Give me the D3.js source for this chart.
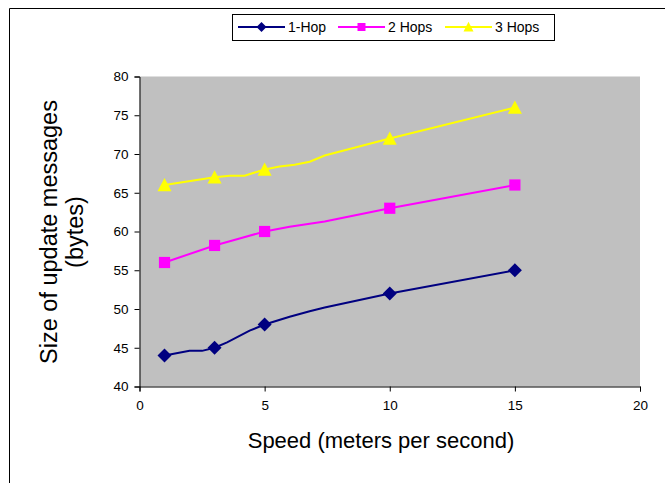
<!DOCTYPE html>
<html>
<head>
<meta charset="utf-8">
<script src="https://cdn.jsdelivr.net/npm/d3@7"></script>
<style>
  html, body { margin: 0; padding: 0; background: #fff; }
  svg { display: block; }
  text { font-family: "Liberation Sans", Arial, sans-serif; fill: #000; }
</style>
</head>
<body>
<svg id="chart" width="665" height="483"></svg>
<script>
// ---- data ----
const seriesNames = ["1-Hop", "2 Hops", "3 Hops"];
const markerSpeeds = [1, 3, 5, 10, 15];
const hop1Markers = [44, 45, 48, 52, 55];
const hop2Markers = [56, 58.2, 60, 63, 66];
const hop3Markers = [66, 67, 68, 72, 76];
// line traces (include the small intermediate bends seen in the picture)
const hop1LineX = [1, 2, 2.5, 3, 3.5, 4.4, 5, 6, 6.8, 7.4, 10, 15];
const hop1LineY = [44, 44.6, 44.6, 45, 45.7, 47.2, 48, 49.0, 49.7, 50.2, 52, 55];
const hop2LineX = [1, 3, 4, 5, 6, 6.8, 7.4, 10, 15];
const hop2LineY = [56, 58.2, 59.1, 60, 60.6, 61.0, 61.3, 63, 66];
const hop3LineX = [1, 3, 3.6, 4.2, 5, 5.6, 6.2, 6.8, 7.4, 10, 15];
const hop3LineY = [66, 67, 67.2, 67.2, 68, 68.4, 68.6, 69.0, 69.8, 72, 76];
const xTicks = [0, 5, 10, 15, 20];
const yTicks = [40, 45, 50, 55, 60, 65, 70, 75, 80];

const colors = ["#000080", "#FF00FF", "#FFFF00"];

// marker shapes (r = half size)
function markerPath(i, r) {
  if (i === 0) return `M0,${-r}L${r},0L0,${r}L${-r},0Z`;
  if (i === 1) { const s = r * 0.8; return `M${-s},${-s}H${s}V${s}H${-s}Z`; }
  const h = r * 1.75;
  return `M0,${-h / 2 - 1}L${r},${h / 2}L${-r},${h / 2}Z`;
}

const svg = d3.select("#chart");

// outer frame (extends beyond right and bottom edges)
svg.append("path")
  .attr("d", "M9.5,483 L9.5,8.5 L665,8.5")
  .attr("fill", "none").attr("stroke", "#000").attr("stroke-width", 1);

const x = d3.scaleLinear().domain([0, 20]).range([139.5, 640]);
const y = d3.scaleLinear().domain([40, 80]).range([386.5, 76.5]);

// plot area
svg.append("rect")
  .attr("x", x(0)).attr("y", y(80))
  .attr("width", x(20) - x(0)).attr("height", y(40) - y(80))
  .attr("fill", "#C0C0C0");

// axes
const xAxis = svg.append("g").attr("transform", `translate(0,${y(40)})`)
  .call(d3.axisBottom(x).tickValues(xTicks).tickSize(5).tickPadding(9).tickFormat(d3.format("d")));
const yAxis = svg.append("g").attr("transform", `translate(${x(0)},0)`)
  .call(d3.axisLeft(y).tickValues(yTicks).tickSize(5).tickPadding(6).tickFormat(d3.format("d")));
[xAxis, yAxis].forEach(g => {
  g.select(".domain").attr("stroke", "#000").attr("stroke-width", 1);
  g.selectAll(".tick line").attr("stroke", "#000");
  g.selectAll(".tick text").style("font-size", "13.5px")
    .style("font-family", "'Liberation Sans', Arial, sans-serif").attr("fill", "#000");
});

// series
const lines = [
  d3.zip(hop1LineX, hop1LineY),
  d3.zip(hop2LineX, hop2LineY),
  d3.zip(hop3LineX, hop3LineY)
];
const markers = [hop1Markers, hop2Markers, hop3Markers];
const line = d3.line().x(d => x(d[0])).y(d => y(d[1]));

lines.forEach((pts, i) => {
  svg.append("path").datum(pts).attr("d", line)
    .attr("fill", "none").attr("stroke", colors[i]).attr("stroke-width", 2);
});
markers.forEach((vals, i) => {
  svg.append("g").selectAll("path").data(d3.zip(markerSpeeds, vals)).join("path")
    .attr("transform", d => `translate(${x(d[0])},${y(d[1])})`)
    .attr("d", markerPath(i, 7))
    .attr("fill", colors[i]);
});

// axis titles
svg.append("text")
  .attr("x", 381).attr("y", 448).attr("text-anchor", "middle")
  .style("font-size", "22px").text("Speed (meters per second)");
const yt = svg.append("text")
  .attr("transform", "translate(57,232) rotate(-90)")
  .attr("text-anchor", "middle").style("font-size", "23.5px");
yt.append("tspan").attr("x", 0).attr("dy", 0).text("Size of update messages");
yt.append("tspan").attr("x", 0).attr("dy", 26).text("(bytes)");

// legend
const legend = svg.append("g");
legend.append("rect").attr("x", 232.5).attr("y", 14.5).attr("width", 322).attr("height", 26)
  .attr("fill", "#fff").attr("stroke", "#000").attr("stroke-width", 1);
const legX = [238, 338, 445];
seriesNames.forEach((name, i) => {
  const lx = legX[i];
  legend.append("line").attr("x1", lx).attr("x2", lx + 47).attr("y1", 27).attr("y2", 27)
    .attr("stroke", colors[i]).attr("stroke-width", 2);
  legend.append("path")
    .attr("transform", `translate(${lx + 23.5},27)`)
    .attr("d", markerPath(i, 5))
    .attr("fill", colors[i]);
  legend.append("text").attr("x", lx + 50).attr("y", 32)
    .style("font-size", "14px").text(name);
});
</script>
</body>
</html>
